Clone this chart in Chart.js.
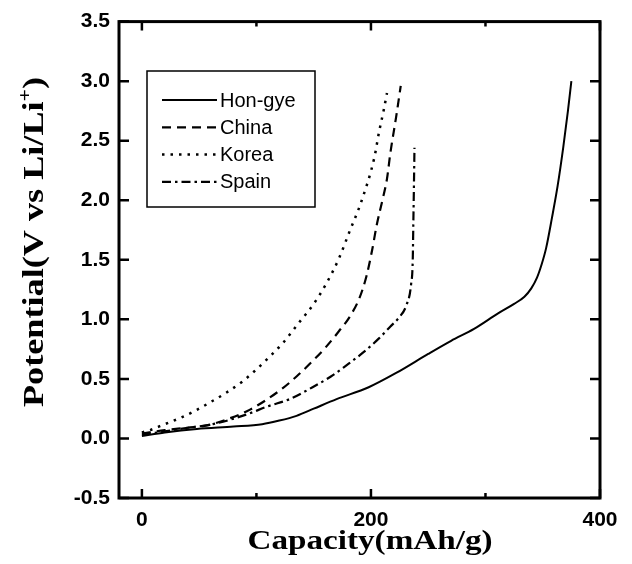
<!DOCTYPE html>
<html>
<head>
<title>Capacity vs potential</title>
<script src="https://cdn.jsdelivr.net/npm/chart.js"></script>
<style>
  html, body { margin: 0; background: #fff; }
</style>
</head>
<body>
<canvas id="chart" width="632" height="564"></canvas>
<script>
// values
const seriesNames = ['Hon-gye', 'China', 'Korea', 'Spain'];

const honGyeCap = [0, 20, 48, 80, 105, 120, 135, 150, 170, 198, 222, 250, 270, 290, 311, 325, 334, 340, 345, 349, 353, 358, 363, 368, 372, 375];
const honGyeV   = [0.02, 0.05, 0.08, 0.10, 0.12, 0.15, 0.19, 0.25, 0.33, 0.43, 0.55, 0.71, 0.82, 0.92, 1.05, 1.13, 1.19, 1.26, 1.35, 1.46, 1.60, 1.85, 2.12, 2.45, 2.75, 3.00];

const chinaCap = [0, 20, 40, 57, 77, 94, 120, 135, 149, 160, 172, 182, 190, 196, 201, 205, 210, 214, 217, 222, 226];
const chinaV   = [0.04, 0.07, 0.09, 0.11, 0.17, 0.24, 0.40, 0.52, 0.65, 0.76, 0.90, 1.03, 1.18, 1.36, 1.58, 1.79, 2.00, 2.18, 2.40, 2.70, 2.96];

const koreaCap = [0, 7, 20, 33, 46, 59, 73, 88, 100, 114, 123, 137, 150, 161, 172, 181, 192, 203, 207, 211, 214];
const koreaV   = [0.05, 0.07, 0.12, 0.17, 0.23, 0.30, 0.38, 0.48, 0.58, 0.71, 0.80, 0.97, 1.13, 1.30, 1.51, 1.73, 2.00, 2.36, 2.57, 2.75, 2.90];

const spainCap = [0, 20, 40, 62, 91, 110, 129, 149, 165, 178, 193, 207, 217, 224, 231, 235, 236.5, 237, 237.5, 238];
const spainV   = [0.03, 0.06, 0.09, 0.12, 0.20, 0.27, 0.33, 0.43, 0.52, 0.61, 0.72, 0.84, 0.94, 1.01, 1.12, 1.29, 1.50, 1.80, 2.10, 2.44];

const xTickValues = [0, 200, 400];
const xMinorTicks = [100, 300];
const yTickValues = [-0.5, 0, 0.5, 1.0, 1.5, 2.0, 2.5, 3.0, 3.5];

const toPoints = (xs, ys) => xs.map((x, i) => ({ x: x, y: ys[i] }));

const lineStyles = [
  { borderDash: [], borderWidth: 2 },
  { borderDash: [9, 6], borderWidth: 2.2 },
  { borderDash: [2.5, 6], borderWidth: 2.5 },
  { borderDash: [9, 4, 2.5, 4], borderWidth: 2.2 }
];

const seriesData = [
  toPoints(honGyeCap, honGyeV),
  toPoints(chinaCap, chinaV),
  toPoints(koreaCap, koreaV),
  toPoints(spainCap, spainV)
];

// frame, inward ticks, legend box and axis titles
const decorations = {
  id: 'decorations',
  afterDraw(chart) {
    const ctx = chart.ctx;
    const a = chart.chartArea;
    const xs = chart.scales.x, ys = chart.scales.y;
    ctx.save();
    ctx.strokeStyle = '#000';
    ctx.lineCap = 'butt';

    // ticks pointing into the plot
    ctx.lineWidth = 2.5;
    const xTick = (v, len) => {
      const px = xs.getPixelForValue(v);
      ctx.beginPath();
      ctx.moveTo(px, a.bottom); ctx.lineTo(px, a.bottom - len);
      ctx.moveTo(px, a.top); ctx.lineTo(px, a.top + len);
      ctx.stroke();
    };
    xTickValues.forEach(v => xTick(v, 9));
    xMinorTicks.forEach(v => xTick(v, 5));
    yTickValues.forEach(v => {
      const py = ys.getPixelForValue(v);
      ctx.beginPath();
      ctx.moveTo(a.left, py); ctx.lineTo(a.left + 10, py);
      ctx.moveTo(a.right, py); ctx.lineTo(a.right - 10, py);
      ctx.stroke();
    });

    // frame
    ctx.lineWidth = 3;
    ctx.strokeRect(a.left, a.top, a.right - a.left, a.bottom - a.top);

    // legend
    ctx.lineWidth = 1.5;
    ctx.strokeRect(147, 71, 168, 136);
    ctx.font = '20px "Liberation Sans", Arial, sans-serif';
    ctx.fillStyle = '#000';
    ctx.textBaseline = 'middle';
    chart.data.datasets.forEach((ds, i) => {
      const y = 100 + i * 27.3;
      ctx.lineWidth = ds.borderWidth;
      ctx.setLineDash(ds.borderDash);
      ctx.beginPath();
      ctx.moveTo(162, y); ctx.lineTo(217, y);
      ctx.stroke();
      ctx.setLineDash([]);
      ctx.fillText(ds.label, 220, y + 1);
    });

    // x title
    ctx.textBaseline = 'alphabetic';
    ctx.textAlign = 'center';
    ctx.font = 'bold 27px "Liberation Serif", "Times New Roman", serif';
    const xt = 'Capacity(mAh/g)';
    const xw = ctx.measureText(xt).width;
    ctx.save();
    ctx.translate(370, 549);
    ctx.scale(245 / xw, 1);
    ctx.fillText(xt, 0, 0);
    ctx.restore();

    // y title with superscript
    const mainFont = 'bold 30px "Liberation Serif", "Times New Roman", serif';
    const supFont = 'bold 18px "Liberation Serif", "Times New Roman", serif';
    const part1 = 'Potential(V vs Li/Li', sup = '+', part2 = ')';
    ctx.font = mainFont;
    const w1 = ctx.measureText(part1).width, w3 = ctx.measureText(part2).width;
    ctx.font = supFont;
    const w2 = ctx.measureText(sup).width;
    const total = w1 + w2 + w3;
    ctx.save();
    ctx.translate(43, 242);
    ctx.rotate(-Math.PI / 2);
    ctx.scale(330 / total, 1);
    ctx.textAlign = 'left';
    ctx.font = mainFont;
    ctx.fillText(part1, -total / 2, 0);
    ctx.font = supFont;
    ctx.fillText(sup, -total / 2 + w1, -12);
    ctx.font = mainFont;
    ctx.fillText(part2, -total / 2 + w1 + w2, 0);
    ctx.restore();

    ctx.restore();
  }
};

const tickFont = { family: '"Liberation Sans", Arial, sans-serif', size: 21, weight: 'bold' };

new Chart(document.getElementById('chart'), {
  type: 'line',
  data: {
    datasets: seriesNames.map((name, i) => ({
      label: name,
      data: seriesData[i],
      borderColor: '#000',
      borderWidth: lineStyles[i].borderWidth,
      borderDash: lineStyles[i].borderDash,
      pointRadius: 0,
      fill: false,
      cubicInterpolationMode: 'monotone'
    }))
  },
  options: {
    responsive: false,
    animation: false,
    devicePixelRatio: 1,
    layout: { padding: { top: 18, right: 32, left: 0, bottom: 0 } },
    plugins: { legend: { display: false }, tooltip: { enabled: false } },
    scales: {
      x: {
        type: 'linear',
        min: -20,
        max: 400,
        afterBuildTicks: s => { s.ticks = xTickValues.map(v => ({ value: v })); },
        afterFit: s => { s.height = 66; },
        grid: { display: false, drawTicks: false },
        border: { display: false },
        ticks: { font: tickFont, color: '#000', padding: 10, maxRotation: 0, autoSkip: false }
      },
      y: {
        type: 'linear',
        min: -0.5,
        max: 3.5,
        afterBuildTicks: s => { s.ticks = yTickValues.map(v => ({ value: v })); },
        afterFit: s => { s.width = 119; },
        grid: { display: false, drawTicks: false },
        border: { display: false },
        ticks: { font: tickFont, color: '#000', padding: 9, autoSkip: false, callback: v => v.toFixed(1) }
      }
    }
  },
  plugins: [decorations]
});
</script>
</body>
</html>
